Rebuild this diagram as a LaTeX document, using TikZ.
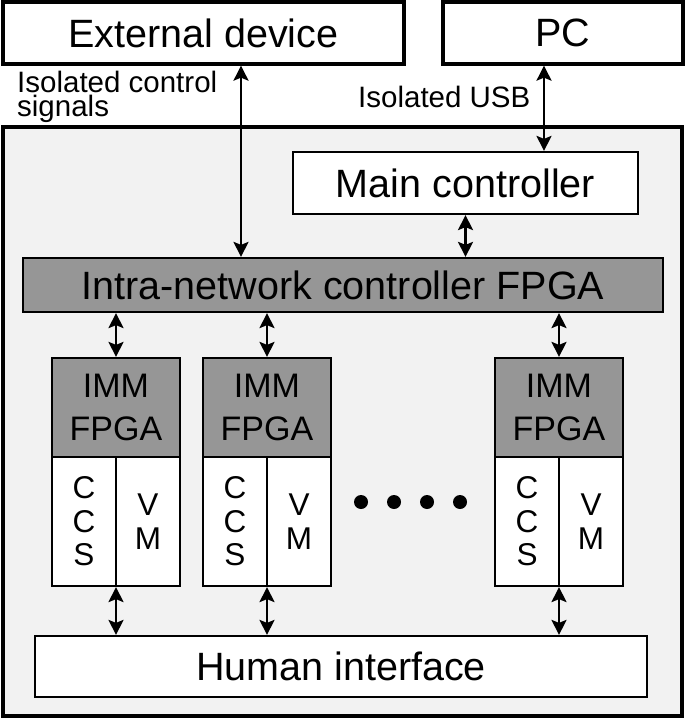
\documentclass[tikz,border=0pt]{standalone}
\usepackage{fontspec}
\setmainfont{Liberation Sans}
\usetikzlibrary{arrows.meta, positioning}
\definecolor{boardgray}{RGB}{242,242,242}
\definecolor{fpgagray}{RGB}{150,150,150}

\begin{document}
\begin{tikzpicture}[x=1pt, y=-1pt,
                bigbox/.style={draw, line width=3.3pt, fill=white, inner sep=0pt,
                               font=\fontsize{39.5}{44}\selectfont},
                block/.style={draw, line width=2.2pt, fill=white, inner sep=0pt,
                              font=\fontsize{39.5}{44}\selectfont},
                fpga/.style={block, fill=fpgagray},
                immbox/.style={draw, line width=2.2pt, fill=fpgagray, inner sep=0pt,
                               minimum width=128pt, minimum height=99pt, align=center,
                               font=\fontsize{34}{43}\selectfont},
                half/.style={draw, line width=2.2pt, fill=white, inner sep=0pt,
                             minimum width=64pt, minimum height=129pt, align=center,
                             font=\fontsize{31.5}{33.5}\selectfont},
                link/.style={{Stealth[length=15pt,width=15pt,inset=3pt]}-{Stealth[length=15pt,width=15pt,inset=3pt]},
                             line width=2.4pt},
                note/.style={inner sep=0pt, align=left, font=\fontsize{29.5}{24}\selectfont},
                dot/.style={circle, fill, inner sep=0pt, minimum size=14pt}]

                \useasboundingbox (0,0) rectangle (685,719);

                % Board
                \node[draw, line width=3.3pt, fill=boardgray, minimum width=679pt,
                      minimum height=589pt] (board) at (342.5,421.5) {};

                % Outside
                \node[bigbox, minimum width=401pt, minimum height=62pt] (ext) at (203.5,33) {External device};
                \node[bigbox, minimum width=240pt, minimum height=62pt] (pc) at (563,33) {PC};

                % Controllers
                \node[block, minimum width=345pt, minimum height=62pt] (mainctrl) at (465.5,183) {Main controller};
                \node[fpga, minimum width=640pt, minimum height=54pt] (intra) at (343,285) {Intra-network controller FPGA};

                % IMM modules
                \node[immbox] (imm1) at (116,407.5) {IMM\\FPGA};
                \node[half] (ccs1) at (84,521.5) {C\\C\\S};
                \node[half] (vm1) at (148,521.5) {V\\M};

                \node[immbox] (imm2) at (267,407.5) {IMM\\FPGA};
                \node[half] (ccs2) at (235,521.5) {C\\C\\S};
                \node[half] (vm2) at (299,521.5) {V\\M};

                \node[immbox] (imm3) at (559,407.5) {IMM\\FPGA};
                \node[half] (ccs3) at (527,521.5) {C\\C\\S};
                \node[half] (vm3) at (591,521.5) {V\\M};

                \node[dot] (dot1) at (361,502) {};
                \node[dot] (dot2) at (394,502) {};
                \node[dot] (dot3) at (427,502) {};
                \node[dot] (dot4) at (460,502) {};

                \node[block, minimum width=612pt, minimum height=61pt] (human) at (341,666.5) {Human interface};

                % Links
                \coordinate (extport) at (241,0);
                \coordinate (usbport) at (544,0);
                \draw[link] (ext.south -| extport) -- (intra.north -| extport);
                \draw[link] (pc.south -| usbport) -- (mainctrl.north -| usbport);
                \draw[link] (mainctrl.south) -- (intra.north -| mainctrl.south);

                \draw[link] (intra.south -| imm1.north) -- (imm1.north);
                \draw[link] (intra.south -| imm2.north) -- (imm2.north);
                \draw[link] (intra.south -| imm3.north) -- (imm3.north);

                \draw[link] (imm1.north |- ccs1.south) -- (human.north -| imm1.north);
                \draw[link] (imm2.north |- ccs2.south) -- (human.north -| imm2.north);
                \draw[link] (imm3.north |- ccs3.south) -- (human.north -| imm3.north);

                % Labels
                \node[note, anchor=north west] (ctrllabel) at (17,71) {Isolated control\\signals};
                \node[note, anchor=base west] (usblabel) at (358,108) {Isolated USB};
\end{tikzpicture}
\end{document}
